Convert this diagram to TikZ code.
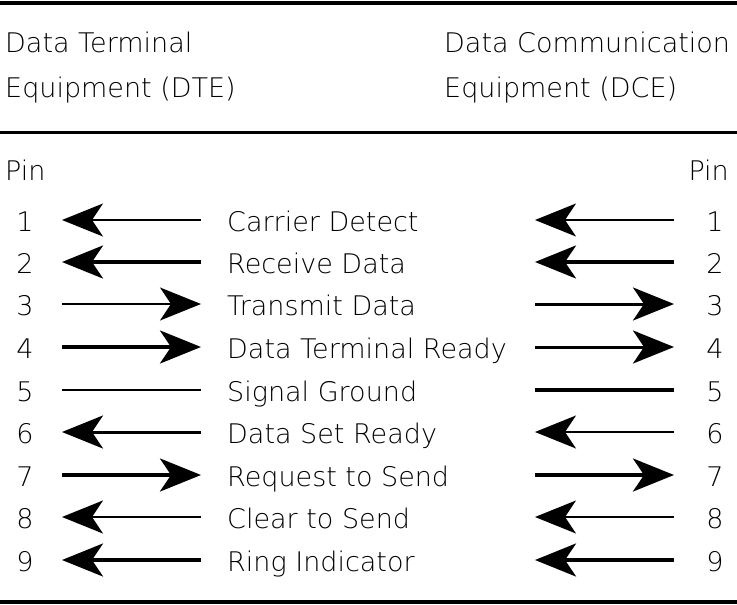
\documentclass[tikz,border=0pt]{standalone}
\usepackage{fontspec}
\IfFontExistsTF{DejaVu Sans ExtraLight}
  {\setmainfont{DejaVu Sans ExtraLight}}
  {\setmainfont{DejaVu Sans}}
\usetikzlibrary{arrows.meta}

\tikzset{
  txt/.style={font=\fontsize{27}{30}\selectfont, inner sep=0pt},
  lbl/.style={txt, anchor=base west},
  rlbl/.style={txt, anchor=base east},
  num/.style={txt, anchor=base},
  rulethick/.style={line width=4pt},
  rulethin/.style={line width=3pt},
  sig/.style={line width=#1},
  sig/.default=2.5pt,
  arr/.style={-{Stealth[length=41pt,width=33pt,inset=11pt]}},
}

\begin{document}
\begin{tikzpicture}[x=1pt,y=-1pt]
  \useasboundingbox (0,0) rectangle (737,605);

  % horizontal rules
  \draw[rulethick] (0,2.5) -- (737,2.5);
  \draw[rulethin]  (0,132) -- (737,132);
  \draw[rulethick] (0,602) -- (737,602);

  % column headings
  \node[lbl] (dte1) at (5,52.5) {Data Terminal};
  \node[lbl] (dte2) at (5,97)   {Equipment (DTE)};
  \node[lbl] (dce1) at (444,52.5) {Data Communication};
  \node[lbl] (dce2) at (444,97)   {Equipment (DCE)};
  \node[lbl]  (pinl) at (5,180)   {Pin};
  \node[rlbl] (pinr) at (729,180) {Pin};

  % pin numbers, signal names and line end points
  \foreach \n/\y/\t in {1/220/Carrier Detect, 2/262/Receive Data,
      3/304/Transmit Data, 4/347/Data Terminal Ready, 5/390/Signal Ground,
      6/432/Data Set Ready, 7/475/Request to Send, 8/517/Clear to Send,
      9/560/Ring Indicator} {
    \node[num] (lp\n) at (25,\y+11)  {\n};
    \node[lbl] (s\n)  at (227,\y+11) {\t};
    \node[num] (rp\n) at (715,\y+11) {\n};
    \coordinate (la\n) at (62,\y);
    \coordinate (lb\n) at (201,\y);
    \coordinate (ra\n) at (535,\y);
    \coordinate (rb\n) at (674,\y);
  }

  % signals from DCE to DTE (line widths: left side / right side)
  \foreach \n/\wl/\wr in {1/2/2, 2/3.5/3.5, 6/3/2, 8/2.5/2, 9/3.5/3.5} {
    \draw[sig=\wl pt,arr] (lb\n) -- (la\n);
    \draw[sig=\wr pt,arr] (rb\n) -- (ra\n);
  }
  % signals from DTE to DCE
  \foreach \n/\wl/\wr in {3/2/3, 4/3.5/3, 7/3.5/3.5} {
    \draw[sig=\wl pt,arr] (la\n) -- (lb\n);
    \draw[sig=\wr pt,arr] (ra\n) -- (rb\n);
  }
  % ground
  \draw[sig=2pt] (la5) -- (lb5);
  \draw[sig=3.5pt] (ra5) -- (rb5);
\end{tikzpicture}
\end{document}
